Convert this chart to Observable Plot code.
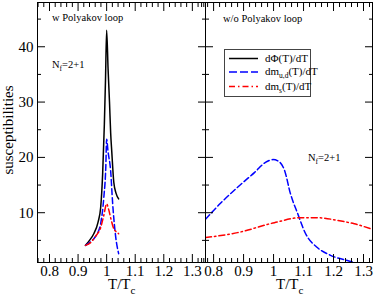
<!DOCTYPE html>
<html><head><meta charset="utf-8">
<script src="https://cdn.jsdelivr.net/npm/d3@7"></script>
<script src="https://cdn.jsdelivr.net/npm/@observablehq/plot@0.6"></script>
<style>
body{margin:0;background:#fff}
#wrap{position:relative;width:374px;height:298px;font-family:"Liberation Serif",serif;background:#fff}
#wrap svg{position:absolute;left:0;top:0}
</style></head><body><div id="wrap"></div>
<script>
// ---- tick values ----
const xMajor = [0.8, 0.9, 1, 1.1, 1.2, 1.3];
const xMinor = d3.range(38, 68).map(i => i / 50).filter(v => Math.round(v * 50) % 5 !== 0);
const yMajor = [10, 20, 30, 40];
const yMinor = [5, 15, 25, 35, 45];
const leftDomainX = [0.758, 1.346];
const rightDomainX = [0.773, 1.33];
const yDomain = [1, 48];

// ---- left panel (w Polyakov loop) ----
const phiLT = [0.926, 0.94, 0.955, 0.97, 0.979, 0.986, 0.992, 0.996, 1.0, 1.005, 1.010, 1.014, 1.018, 1.025, 1.033, 1.042];
const phiLV = [4.1, 5.0, 6.2, 8.3, 10.9, 17.0, 26.0, 34.0, 43.0, 36.0, 30.0, 24.5, 21.0, 15.5, 13.5, 12.5];
const mudLT = [0.926, 0.94, 0.955, 0.968, 0.979, 0.99, 0.997, 1.0, 1.005, 1.014, 1.021, 1.032, 1.042];
const mudLV = [4.1, 4.6, 5.3, 6.3, 8.0, 12.7, 18.2, 23.3, 21.0, 17.6, 11.7, 5.5, 2.6];
const msLT = [0.926, 0.944, 0.962, 0.979, 0.99, 1.0, 1.007, 1.014, 1.025, 1.033, 1.042];
const msLV = [4.1, 4.6, 5.8, 7.3, 9.5, 11.6, 10.6, 9.1, 7.1, 6.6, 6.2];

// ---- right panel (w/o Polyakov loop) ----
const mudRT = [0.773, 0.823, 0.880, 0.937, 0.973, 0.998, 1.019, 1.037, 1.056, 1.080, 1.107, 1.146, 1.190, 1.246, 1.276];
const mudRV = [8.8, 11.7, 14.6, 17.3, 19.1, 19.6, 19.2, 17.6, 13.5, 9.9, 6.2, 3.7, 2.3, 1.35, 0.9];
const msRT = [0.773, 0.880, 1.003, 1.089, 1.146, 1.215, 1.269, 1.33];
const msRV = [5.5, 6.4, 8.2, 9.1, 9.1, 8.6, 8.0, 7.0];

const styles = {
  phi: {stroke: "#000000", strokeDasharray: null},
  mud: {stroke: "#0000ff", strokeDasharray: "6,3"},
  ms:  {stroke: "#ff0000", strokeDasharray: "6,3,1.5,3"}
};

function lineMark(T, V, st) {
  return Plot.line({length: T.length}, {
    x: T, y: V, stroke: st.stroke, strokeDasharray: st.strokeDasharray,
    strokeWidth: 1.5, curve: "monotone-x", clip: true
  });
}

function panel(ml, mr, xdom, series, yLabels) {
  const marks = [];
  for (const s of series) marks.push(lineMark(s[0], s[1], s[2]));
  marks.push(
    Plot.frame({stroke: "#000", strokeWidth: 1}),
    Plot.axisX(xMajor, {anchor: "bottom", tickSize: -8, tickPadding: 11, fontSize: 15, tickFormat: d => String(d), label: null}),
    Plot.axisX(xMinor, {anchor: "bottom", tickSize: -4, tickFormat: () => "", label: null}),
    Plot.axisX(xMajor, {anchor: "top", tickSize: -8, tickFormat: () => "", label: null}),
    Plot.axisX(xMinor, {anchor: "top", tickSize: -4, tickFormat: () => "", label: null}),
    Plot.axisY(yMajor, {anchor: "left", tickSize: -8, tickPadding: 12, fontSize: 15, tickFormat: yLabels ? (d => String(d)) : (() => ""), label: null}),
    Plot.axisY(yMinor, {anchor: "left", tickSize: -4, tickFormat: () => "", label: null}),
    Plot.axisY(yMajor, {anchor: "right", tickSize: -8, tickFormat: () => "", label: null}),
    Plot.axisY(yMinor, {anchor: "right", tickSize: -4, tickFormat: () => "", label: null})
  );
  return Plot.plot({
    width: 374, height: 298,
    marginLeft: ml, marginRight: mr, marginTop: 2, marginBottom: 36,
    x: {domain: xdom, label: null},
    y: {domain: yDomain, label: null},
    style: {background: "transparent", fontFamily: "Liberation Serif", fontSize: "15px", color: "#000"},
    marks
  });
}

const wrap = document.getElementById("wrap");
wrap.appendChild(panel(37, 169, leftDomainX, [
  [phiLT, phiLV, styles.phi], [mudLT, mudLV, styles.mud], [msLT, msLV, styles.ms]
], true));
wrap.appendChild(panel(205, 2, rightDomainX, [
  [mudRT, mudRV, styles.mud], [msRT, msRV, styles.ms]
], false));

// ---- annotations and legend ----
const ns = "http://www.w3.org/2000/svg";
const ov = document.createElementNS(ns, "svg");
ov.setAttribute("width", 374); ov.setAttribute("height", 298);
ov.style.fontFamily = "Liberation Serif";
ov.innerHTML = `
  <text x="9" y="130" font-size="15" text-anchor="middle" transform="rotate(-90 9 130)" dy="4">susceptibilities</text>
  <text x="108" y="289" font-size="15">T/T<tspan font-size="11" dy="5">c</tspan></text>
  <text x="276" y="289" font-size="15">T/T<tspan font-size="11" dy="5">c</tspan></text>
  <text x="52" y="21" font-size="10.5">w Polyakov loop</text>
  <text x="223" y="22" font-size="10.5">w/o Polyakov loop</text>
  <text x="52" y="68" font-size="10.5">N<tspan font-size="7.5" dy="3">f</tspan><tspan dy="-3">=2+1</tspan></text>
  <text x="308" y="161" font-size="10.5">N<tspan font-size="7.5" dy="3">f</tspan><tspan dy="-3">=2+1</tspan></text>
  <rect x="224.5" y="49.5" width="86" height="47" fill="#fff" stroke="#444" stroke-width="1"/>
  <line x1="229" x2="258" y1="58.5" y2="58.5" stroke="${styles.phi.stroke}" stroke-width="1.5"/>
  <line x1="229" x2="258" y1="72" y2="72" stroke="${styles.mud.stroke}" stroke-width="1.5" stroke-dasharray="8,3"/>
  <line x1="229" x2="258" y1="86.5" y2="86.5" stroke="${styles.ms.stroke}" stroke-width="1.5" stroke-dasharray="6,3,1.5,3"/>
  <text x="265" y="62" font-size="11">dΦ(T)/dT</text>
  <text x="265" y="75" font-size="11">dm<tspan font-size="7.5" dy="3">u,d</tspan><tspan dy="-3">(T)/dT</tspan></text>
  <text x="265" y="90" font-size="11">dm<tspan font-size="7.5" dy="3">s</tspan><tspan dy="-3">(T)/dT</tspan></text>
`;
wrap.appendChild(ov);
</script></body></html>
